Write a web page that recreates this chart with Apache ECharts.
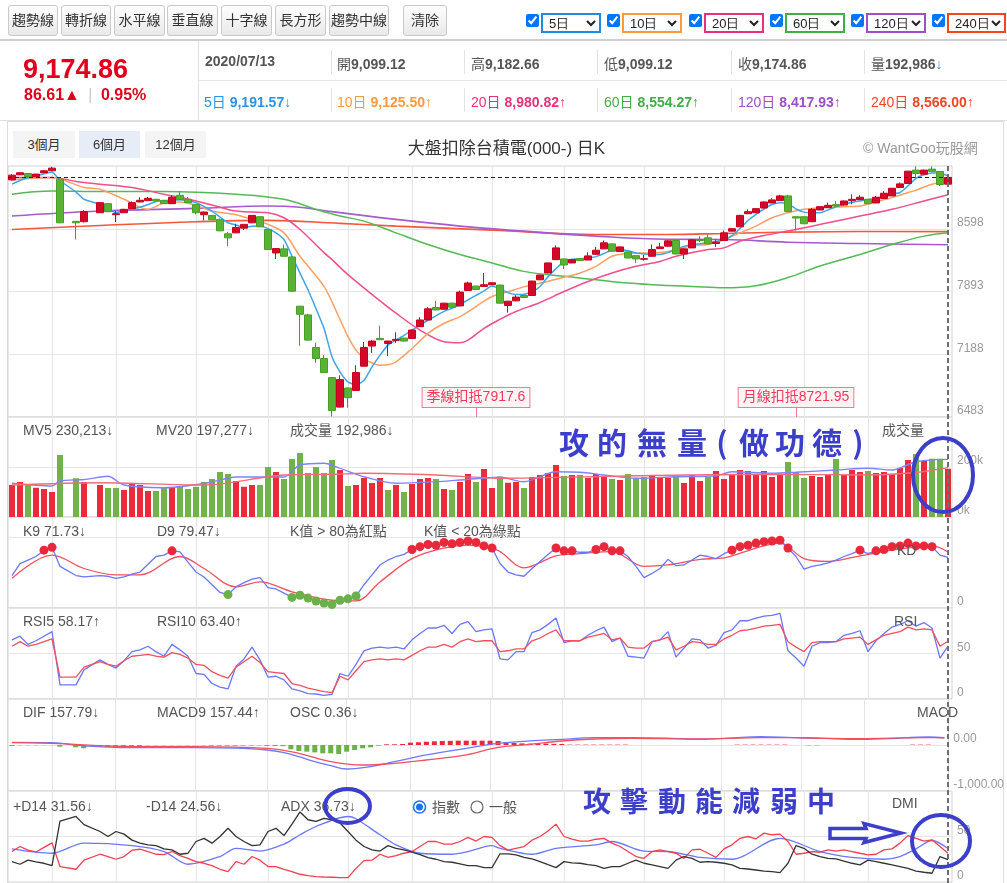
<!DOCTYPE html>
<html>
<head>
<meta charset="utf-8">
<script src="https://cdn.jsdelivr.net/npm/echarts@6/dist/echarts.min.js"></script>
<style>
body { margin: 0; background: #fff; font-family: "Liberation Sans", Arial, "Noto Sans CJK TC", sans-serif; }
#page { position: relative; width: 1007px; height: 883px; overflow: hidden; }
#chart { position: absolute; left: 0; top: 0; width: 1007px; height: 883px; z-index: 1; }
.abs { position: absolute; z-index: 2; white-space: nowrap; }
.btn { top: 5px; height: 31px; box-sizing: border-box; border: 1px solid #c9c9c9; border-radius: 3px;
  background: linear-gradient(#fefefe, #e9e9e9); font-size: 14px; color: #333; line-height: 29px; text-align: center; }
.ck { top: 14px; width: 13px; height: 13px; margin: 0; }
.sel { top: 13px; height: 20px; box-sizing: border-box; border: 2px solid; border-radius: 0; background: #fff;
  font-size: 13px; padding: 0 0 0 2px; color: #222; }
.cell { font-size: 14px; font-weight: bold; color: #555; }
.cell span { font-weight: normal; }
.vsep { width: 1px; background: #e2e2e2; }
.tab { top: 131px; height: 27px; font-size: 13px; color: #333; line-height: 27px; text-align: center; background: #f4f4f4; }
</style>
</head>
<body>
<div id="page">
  <div class="abs" style="left:7px;top:121px;width:995px;height:770px;border:1px solid #dcdcdc;z-index:0"></div>
  <div id="chart"></div>

  <div class="abs btn" style="left:8px;width:50px">趨勢線</div>
  <div class="abs btn" style="left:61px;width:50px">轉折線</div>
  <div class="abs btn" style="left:114px;width:51px">水平線</div>
  <div class="abs btn" style="left:167px;width:51px">垂直線</div>
  <div class="abs btn" style="left:221px;width:51px">十字線</div>
  <div class="abs btn" style="left:275px;width:51px">長方形</div>
  <div class="abs btn" style="left:329px;width:60px">趨勢中線</div>
  <div class="abs btn" style="left:403px;width:44px">清除</div>

  <input type="checkbox" checked class="abs ck" style="left:526px">
  <select class="abs sel" style="left:541px;width:60px;border-color:#1f8ae0"><option>5日</option></select>
  <input type="checkbox" checked class="abs ck" style="left:607px">
  <select class="abs sel" style="left:622px;width:60px;border-color:#ff9a3c"><option>10日</option></select>
  <input type="checkbox" checked class="abs ck" style="left:689px">
  <select class="abs sel" style="left:704px;width:60px;border-color:#e9307a"><option>20日</option></select>
  <input type="checkbox" checked class="abs ck" style="left:770px">
  <select class="abs sel" style="left:785px;width:60px;border-color:#3fae46"><option>60日</option></select>
  <input type="checkbox" checked class="abs ck" style="left:851px">
  <select class="abs sel" style="left:866px;width:60px;border-color:#9b4fc9"><option>120日</option></select>
  <input type="checkbox" checked class="abs ck" style="left:932px">
  <select class="abs sel" style="left:947px;width:59px;border-color:#f2461e"><option>240日</option></select>

  <div class="abs" style="left:0;top:39px;width:1007px;height:2px;background:#cfcfcf"></div>
  <div class="abs" style="left:0;top:120px;width:1007px;height:1px;background:#e0e0e0"></div>
  <div class="abs" style="left:198px;top:41px;width:1px;height:79px;background:#e0e0e0"></div>
  <div class="abs" style="left:198px;top:80px;width:809px;height:1px;background:#e6e6e6"></div>

  <div class="abs" style="left:23px;top:56px;font-size:27px;line-height:27px;font-weight:bold;color:#e0001b">9,174.86</div>
  <div class="abs" style="left:24px;top:87px;font-size:16px;line-height:16px;font-weight:bold;color:#e0001b">86.61▲ <span style="color:#ccc;font-weight:normal;margin:0 4px">|</span> 0.95%</div>

  <div class="abs cell" style="left:205px;top:53px">2020/07/13</div>
  <div class="abs vsep" style="left:331px;top:50px;height:24px"></div>
  <div class="abs cell" style="left:337px;top:53px"><span>開</span>9,099.12</div>
  <div class="abs vsep" style="left:464px;top:50px;height:24px"></div>
  <div class="abs cell" style="left:471px;top:53px"><span>高</span>9,182.66</div>
  <div class="abs vsep" style="left:597px;top:50px;height:24px"></div>
  <div class="abs cell" style="left:604px;top:53px"><span>低</span>9,099.12</div>
  <div class="abs vsep" style="left:731px;top:50px;height:24px"></div>
  <div class="abs cell" style="left:738px;top:53px"><span>收</span>9,174.86</div>
  <div class="abs vsep" style="left:864px;top:50px;height:24px"></div>
  <div class="abs cell" style="left:871px;top:53px"><span>量</span>192,986<span style="color:#3a8ee6">↓</span></div>

  <div class="abs cell" style="left:204px;top:91px;color:#2a94e4"><span>5日</span> 9,191.57<span>↓</span></div>
  <div class="abs vsep" style="left:331px;top:88px;height:24px"></div>
  <div class="abs cell" style="left:337px;top:91px;color:#ff9a3c"><span>10日</span> 9,125.50<span>↑</span></div>
  <div class="abs vsep" style="left:464px;top:88px;height:24px"></div>
  <div class="abs cell" style="left:471px;top:91px;color:#e9307a"><span>20日</span> 8,980.82<span>↑</span></div>
  <div class="abs vsep" style="left:597px;top:88px;height:24px"></div>
  <div class="abs cell" style="left:604px;top:91px;color:#3fae46"><span>60日</span> 8,554.27<span>↑</span></div>
  <div class="abs vsep" style="left:731px;top:88px;height:24px"></div>
  <div class="abs cell" style="left:738px;top:91px;color:#9b4fc9"><span>120日</span> 8,417.93<span>↑</span></div>
  <div class="abs vsep" style="left:864px;top:88px;height:24px"></div>
  <div class="abs cell" style="left:871px;top:91px;color:#f2461e"><span>240日</span> 8,566.00<span>↑</span></div>

  <div class="abs tab" style="left:13px;width:62px">3個月</div>
  <div class="abs tab" style="left:79px;width:61px;background:#e6edf7">6個月</div>
  <div class="abs tab" style="left:145px;width:61px">12個月</div>
  <div class="abs" style="left:0;width:1007px;top:134px;text-align:center;font-size:17px;color:#333;padding-left:6px;box-sizing:border-box">大盤扣除台積電(000-) 日K</div>
  <div class="abs" style="left:863px;top:137px;font-size:14px;color:#999">© WantGoo玩股網</div>
</div>

<script>
// ---- data ----
const categories = [
  '01/13','01/14','01/15','01/16','01/17','01/20','01/30','01/31','02/03','02/04',
  '02/05','02/06','02/07','02/10','02/11','02/12','02/13','02/14','02/17','02/18',
  '02/19','02/20','02/21','02/24','02/25','02/26','02/27','03/02','03/03','03/04',
  '03/05','03/06','03/09','03/10','03/11','03/12','03/13','03/16','03/17','03/18',
  '03/19','03/20','03/23','03/24','03/25','03/26','03/27','03/30','03/31','04/01',
  '04/06','04/07','04/08','04/09','04/10','04/13','04/14','04/15','04/16','04/17',
  '04/20','04/21','04/22','04/23','04/24','04/27','04/28','04/29','04/30','05/04',
  '05/05','05/06','05/07','05/08','05/11','05/12','05/13','05/14','05/15','05/18',
  '05/19','05/20','05/21','05/22','05/25','05/26','05/27','05/28','05/29','06/01',
  '06/02','06/03','06/04','06/05','06/08','06/09','06/10','06/11','06/12','06/15',
  '06/16','06/17','06/18','06/19','06/22','06/23','06/24','06/29','06/30','07/01',
  '07/02','07/03','07/06','07/07','07/08','07/09','07/10','07/13'
];

const opens = [
  9147,9204,9219,9185,9227,9249,9155,null,8681,8677,
  null,8778,8880,8756,8778,8824,8899,8914,8929,8914,
  8880,8974,8929,8869,8756,8748,8703,8541,8552,8605,
  8665,8733,8590,8326,8372,8281,7728,7630,7264,7140,
  6926,6594,6809,6782,7054,7280,7366,7310,7344,7370,
  7366,7498,7573,7713,7694,7762,7731,7905,7954,7950,
  7969,7965,7735,7788,7848,7848,8025,8101,8251,8259,
  8214,8262,8247,8311,8372,8428,8342,8338,8296,8255,
  8289,8375,8402,8466,8315,8383,8477,8496,8432,8466,
  8571,8620,8767,8778,8831,8888,8914,8967,8733,8733,
  8677,8809,8835,8869,8865,8914,8925,8929,8888,8937,
  8967,9061,9106,9257,9211,9268,9242,9099.12
];
const closes = [
  9200,9227,9185,9212,9249,9279,8665,null,8665,8790,
  null,8891,8790,8767,8816,8891,8918,8940,8910,8880,
  8952,8925,8891,8778,8786,8699,8575,8496,8613,8647,
  8748,8620,8364,8375,8289,7897,7637,7347,7140,6982,
  6557,6903,6700,6982,7264,7336,7351,7336,7355,7336,
  7460,7573,7698,7686,7762,7716,7886,7988,7916,7969,
  7991,7762,7784,7830,7826,8010,8078,8214,8383,8191,
  8251,8240,8293,8357,8440,8345,8394,8270,8259,8262,
  8364,8394,8462,8315,8372,8473,8466,8428,8447,8552,
  8598,8748,8790,8824,8899,8922,8967,8790,8718,8654,
  8816,8846,8861,8854,8910,8929,8952,8880,8952,8997,
  9053,9102,9245,9219,9257,9242,9095,9174.86
];
const lows = [
  9140,9200,9180,9180,9222,9245,8660,null,8477,8670,
  null,8775,8785,8673,8775,8820,8895,8910,8905,8876,
  8875,8920,8888,8760,8692,8695,8570,8402,8548,8583,
  8660,8616,8360,8259,8285,7890,7283,7340,7091,6978,
  6489,6590,6587,6778,7050,7204,7348,7170,7317,7332,
  7362,7495,7570,7682,7690,7712,7727,7901,7912,7946,
  7965,7758,7656,7784,7822,7845,8021,8097,8247,8146,
  8210,8236,8243,8307,8368,8341,8338,8266,8214,8240,
  8285,8371,8398,8311,8259,8379,8447,8424,8394,8462,
  8567,8616,8763,8774,8827,8884,8910,8786,8579,8650,
  8673,8805,8831,8850,8861,8873,8921,8876,8884,8933,
  8963,9057,9102,9162,9207,9238,9080,9099.12
];
const highs = [
  9210,9234,9225,9216,9256,9294,9160,null,8685,8805,
  null,8895,8885,8797,8822,8905,8952,8955,8935,8918,
  8974,9016,8955,8872,8790,8752,8712,8564,8654,8652,
  8752,8737,8594,8380,8421,8285,7730,7641,7317,7178,
  6930,6952,6812,7065,7325,7345,7509,7340,7434,7374,
  7465,7603,7716,7788,7766,7766,7901,8003,7958,8101,
  7995,7970,7788,7850,7852,8014,8082,8218,8409,8263,
  8255,8266,8334,8394,8466,8432,8398,8342,8300,8304,
  8421,8440,8470,8470,8376,8481,8515,8534,8477,8579,
  8605,8755,8816,8830,8905,8940,8978,8978,8737,8737,
  8830,8852,8891,8910,8914,8986,8974,8933,8967,9020,
  9057,9117,9249,9300,9262,9300,9246,9182.66
];

// moving averages, read as [slot, value]
const ma5 = [[0,9099],[1,9140],[2,9170],[3,9190],[4,9215],[5,9232],[6,9140],[8,9010],[9,8929],[11,8873],[12,8820],[13,8778],[14,8800],[15,8822],[16,8840],[17,8870],[18,8905],[19,8915],[20,8920],[21,8925],[22,8912],[23,8891],[24,8850],[25,8797],[26,8730],[27,8665],[28,8640],[29,8617],[30,8625],[31,8628],[32,8600],[33,8552],[34,8477],[35,8289],[36,8100],[37,7912],[38,7700],[39,7480],[40,7160],[41,6990],[42,6877],[43,6845],[44,6895],[45,7046],[46,7178],[47,7291],[48,7347],[49,7400],[50,7460],[51,7515],[52,7570],[53,7620],[54,7670],[55,7705],[56,7745],[57,7800],[58,7850],[59,7900],[60,7955],[61,7920],[62,7880],[63,7858],[64,7862],[65,7890],[66,7950],[67,8060],[68,8150],[69,8230],[70,8255],[71,8259],[72,8270],[73,8285],[74,8320],[75,8360],[76,8365],[77,8350],[78,8325],[79,8315],[80,8308],[81,8310],[82,8330],[83,8370],[84,8400],[85,8421],[86,8430],[87,8440],[88,8455],[89,8475],[90,8520],[91,8600],[92,8690],[93,8760],[94,8820],[95,8870],[96,8891],[97,8880],[98,8820],[99,8785],[100,8778],[101,8778],[102,8810],[103,8845],[104,8870],[105,8895],[106,8910],[107,8925],[108,8940],[109,8960],[110,8985],[111,9005],[112,9080],[113,9165],[114,9205],[115,9225],[116,9225],[117,9191.57]];
const ma10 = [[0,9147],[5,9174],[9,9061],[11,9042],[14,8930],[17,8816],[18,8850],[19,8891],[21,8899],[23,8860],[25,8797],[28,8755],[30,8703],[32,8647],[34,8552],[36,8289],[39,7950],[41,7580],[42,7385],[43,7234],[44,7140],[45,7090],[46,7065],[47,7070],[48,7103],[50,7253],[52,7423],[54,7536],[56,7611],[58,7724],[60,7837],[62,7890],[64,7945],[66,7985],[68,8030],[70,8075],[71,8101],[73,8176],[75,8289],[77,8319],[79,8326],[81,8330],[83,8360],[85,8409],[87,8421],[89,8477],[91,8552],[93,8628],[95,8722],[97,8778],[99,8816],[101,8835],[104,8846],[106,8854],[108,8900],[110,8948],[112,9005],[113,9030],[115,9099],[117,9125.5]];
const ma20 = [[0,9174],[5,9174],[8,9130],[11,9099],[15,9061],[19,8986],[23,8910],[26,8840],[28,8797],[30,8785],[32,8778],[34,8722],[36,8590],[39,8330],[40,8251],[42,8082],[45,7860],[48,7649],[51,7460],[54,7329],[56,7317],[57,7347],[59,7479],[61,7580],[63,7668],[66,7770],[69,7893],[72,8006],[75,8101],[78,8176],[81,8230],[83,8289],[87,8364],[89,8383],[91,8458],[94,8522],[98,8590],[102,8665],[106,8741],[110,8816],[114,8910],[117,8980.82]];
const ma60 = [[0,8986],[5,9023],[11,9016],[19,9016],[28,8986],[34,8929],[38,8816],[41,8741],[44,8684],[48,8552],[52,8421],[56,8308],[60,8214],[64,8119],[69,8063],[73,8025],[77,7988],[82,7960],[85,7950],[89,7935],[93,7958],[97,8050],[101,8180],[106,8308],[110,8421],[114,8515],[117,8554.27]];
const ma120 = [[0,8741],[11,8797],[23,8827],[32,8854],[36,8840],[40,8790],[48,8703],[56,8628],[64,8571],[73,8515],[82,8480],[89,8477],[97,8447],[106,8432],[117,8417.93]];
const ma240 = [[0,8590],[11,8635],[23,8677],[32,8692],[41,8658],[48,8628],[60,8583],[73,8534],[82,8534],[89,8545],[97,8560],[106,8567],[117,8566]];

// volume in thousands, colour flag per bar (r = up, g = down)
const volume = [
  128,140,128,117,112,100,248,'-',155,140,
  '-',128,116,116,108,132,128,104,104,116,
  120,120,112,121,140,152,180,172,144,121,
  128,128,200,180,152,232,256,176,200,176,
  228,188,124,128,156,136,156,108,128,100,
  132,152,156,152,112,108,140,172,140,192,
  116,162,137,140,116,160,168,176,208,164,
  168,168,156,172,160,152,148,172,156,160,
  168,156,156,164,136,168,144,160,184,152,
  168,188,184,168,184,160,172,220,180,156,
  164,160,168,232,168,188,180,184,176,180,
  172,196,228,252,224,233,233,193
];
const volColor = ('rrgrrrg-gr' + '-rggrrrrgg' + 'rgggggggrr' + 'rggrgggggg' + 'grgrrrrgrg' +
  'rrrgrgrrgr' + 'rgrrgrrrrg' + 'rgrrrgrggg' + 'rrrgrrrgrr' + 'rrrrrrrggg' + 'rrrgrrrgrr' + 'rrrgrggr').split('');
const mv5 = [[0,135],[5,124],[6,144],[9,150],[12,163],[14,128],[19,117],[22,125],[25,140],[28,160],[34,160],[36,208],[39,215],[41,195],[44,161],[48,135],[53,141],[56,148],[61,159],[64,141],[68,181],[71,179],[74,168],[78,155],[83,161],[88,165],[90,181],[95,175],[98,179],[103,188],[107,195],[110,188],[113,221],[117,230.2]];
const mv20 = [[0,128],[11,137],[24,128],[34,168],[40,171],[44,175],[53,168],[61,155],[78,165],[95,171],[107,168],[113,178],[117,197.3]];

// KD
const kLine = [[0,46],[1,63],[2,68],[3,73],[4,82],[5,86],[6,59],[8,46],[9,44],[11,46],[12,45],[13,42],[14,44],[15,48],[16,51],[17,62],[18,73],[19,75],[20,81],[21,79.5],[22,65],[23,51],[24,44],[25,33],[26,22],[27,19],[28,30],[29,36],[30,41],[31,43],[32,29],[33,27],[34,21],[35,15],[36,18],[37,14],[38,10],[39,7],[40,5],[41,11],[42,13],[43,17],[44,33],[45,47],[46,61],[47,68],[48,73],[49,76],[50,83],[51,87],[52,90],[53,89],[54,93],[55,91],[56,93],[57,95],[58,93],[59,88],[60,85],[61,63],[62,51],[63,47],[64,45],[65,56],[66,66],[67,76],[68,85],[69,81],[70,81],[71,79],[72,79],[73,83],[74,87],[75,81],[76,81],[77,73],[78,59],[79,43],[80,49],[81,56],[82,69],[83,60],[84,61],[85,68],[86,75],[87,73],[88,70],[89,77],[90,82],[91,87],[92,89],[93,92],[94,94],[95,95],[96,96],[97,85],[98,73],[99,55],[100,59],[101,61],[102,64],[103,68],[104,73],[105,77],[106,82],[107,77],[108,81],[109,83],[110,87],[111,88],[112,92],[113,88],[114,88],[115,87],[116,75],[117,71.73]];
const dLine = [[0,42],[5,75],[9,56],[13,47],[16,47],[21,73],[24,56],[28,30],[31,37],[35,23],[40,11],[43,10],[46,37],[50,70],[54,85],[57,89],[60,85],[61,80],[64,57],[68,74],[71,77],[75,80],[79,59],[82,61],[86,69],[89,71],[93,85],[96,92],[99,70],[102,66],[106,74],[110,82],[115,88],[117,79.47]];

// RSI
const rsi5 = [[0,65],[1,69],[2,60],[3,64],[4,69],[5,74],[6,15.5],[8,15.5],[9,32],[11,43],[12,38],[13,34],[14,42],[15,52],[16,54],[17,58],[18,52],[19,47],[20,60],[21,54],[22,47],[23,28],[24,27],[25,17],[26,13],[27,11],[28,36],[29,44],[30,57],[31,43],[32,24],[33,25],[34,21],[35,11],[36,9],[37,6],[38,5.5],[39,4],[40,5],[41,28],[42,25],[43,38],[44,53],[45,56],[46,57],[47,56],[48,57],[49,55],[50,65],[51,72],[52,78],[53,78],[54,81],[55,72],[56,82],[57,85],[58,74],[59,76],[60,77],[61,44],[62,43],[63,52],[64,52],[65,73],[66,76],[67,82],[68,89],[69,62],[70,64],[71,64],[72,70],[73,75],[74,79],[75,63],[76,67],[77,47],[78,46],[79,45],[80,63],[81,65],[82,74],[83,46],[84,56],[85,66],[86,65],[87,56],[88,59],[89,73],[90,76],[91,86],[92,86],[93,89],[94,91],[95,92],[96,94],[97,53],[98,45],[99,36],[100,58],[101,62],[102,62],[103,63],[104,70],[105,72],[106,75],[107,52],[108,64],[109,72],[110,79],[111,82],[112,86],[113,80],[114,84],[115,78],[116,45],[117,58.17]];
const rsi10 = [[0,58],[1,63],[2,58],[3,60],[4,63],[5,66],[6,24],[8,24],[9,35],[11,41],[12,38],[13,36],[14,42],[15,47],[16,48],[17,49],[18,47],[19,46],[20,51],[21,49],[22,45],[23,38],[24,37],[25,30],[26,26],[27,23],[28,35],[29,41],[30,47],[31,40],[32,30],[33,29],[34,28],[35,17],[36,15],[37,12],[38,10],[39,8],[40,7],[41,25],[42,21],[43,31],[44,41],[45,43],[46,44],[47,43],[48,44],[49,43],[50,48],[51,53],[52,57],[53,57],[54,60],[55,57],[56,63],[57,66],[58,63],[59,64],[60,64],[61,52],[62,53],[63,55],[64,55],[65,64],[66,67],[67,72],[68,76],[69,64],[70,64],[71,64],[72,68],[73,70],[74,72],[75,65],[76,67],[77,57],[78,56],[79,56],[80,63],[81,65],[82,68],[83,54],[84,58],[85,63],[86,62],[87,60],[88,60],[89,66],[90,70],[91,75],[92,76],[93,78],[94,80],[95,81],[96,82],[97,63],[98,57],[99,52],[100,62],[101,63],[102,63],[103,63],[104,66],[105,67],[106,68],[107,60],[108,65],[109,70],[110,72],[111,74],[112,79],[113,76],[114,77],[115,76],[116,58],[117,63.4]];

// MACD
const dif = [[0,58],[5,51],[9,-20],[15,-58],[23,-58],[28,-70],[32,-109],[34,-160],[36,-254],[38,-360],[40,-449],[42,-522],[43,-515],[45,-470],[48,-362],[52,-217],[57,-72],[61,36],[65,90],[69,123],[73,159],[78,159],[82,150],[86,123],[90,150],[94,181],[98,159],[102,145],[106,123],[110,140],[115,174],[117,157.79]];
const macd9 = [[0,51],[5,36],[15,-36],[23,-36],[32,-72],[36,-181],[40,-362],[44,-435],[48,-398],[52,-326],[57,-217],[61,-51],[65,14],[69,87],[73,130],[78,145],[86,130],[94,159],[98,159],[102,145],[106,138],[115,159],[117,157.44]];
const osc = [
  -22,-5,-5,-5,-4,-4,-36,'-',-50,-72,
  '-',-36,-43,-50,-43,-36,-36,-5,-5,-5,
  -4,-4,-5,-5,-8,-15,-15,-15,-15,-12,
  -12,-8,-20,-22,-25,-94,-130,-145,-160,-181,
  -181,-196,-145,-109,-72,-50,-15,15,15,22,
  51,60,72,80,87,90,94,94,94,94,
  94,87,65,43,35,29,29,29,25,22,
  8,8,8,8,8,8,8,8,0,0,
  0,0,0,0,0,0,0,0,0,0,
  0,8,8,8,8,8,8,8,0,0,
  -8,-8,0,0,0,0,0,0,0,0,
  0,0,0,8,8,8,1,0.36
];

// DMI
const plusDI = [[0,33.5],[1,39],[2,35],[3,33],[4,38],[5,43],[6,17],[8,14],[9,24],[11,30.5],[12,28],[13,25],[14,28],[15,35],[16,36],[17,33.5],[18,30.5],[19,30],[20,33.5],[21,29],[22,26],[23,22.4],[24,20.6],[25,18],[26,14],[27,11.4],[28,22.4],[29,19.5],[30,28],[31,24],[32,17],[33,17],[34,14],[35,11.4],[36,8.5],[37,7],[38,5.9],[39,5.5],[40,5.2],[41,4.8],[42,4.8],[43,15],[44,23.5],[45,24],[46,30.5],[47,27],[48,29],[49,31.6],[50,33.5],[51,39],[52,44.5],[53,44.5],[54,41.6],[55,41.6],[56,44.5],[57,49],[58,45],[59,50],[60,49],[61,40],[62,35],[63,37],[64,39],[65,46],[66,50],[67,56],[68,63.6],[69,50],[70,47],[71,45],[72,45],[73,47],[74,48],[75,42.7],[76,39],[77,33.5],[78,28],[79,26],[80,33.5],[81,35.3],[82,33.5],[83,31.6],[84,26],[85,35.3],[86,36],[87,31.6],[88,27],[89,36.4],[90,40.8],[91,48],[92,50],[93,47.5],[94,53.7],[95,51.9],[96,52.6],[97,44.5],[98,30.5],[99,31.6],[100,33.5],[101,32.7],[102,35.3],[103,34],[104,35.3],[105,33.5],[106,31.6],[107,29.8],[108,30.5],[109,35.3],[110,36.4],[111,42.7],[112,51],[113,48],[114,45],[115,46.4],[116,39],[117,31.56]];
const minusDI = [[0,22.4],[1,19.5],[2,24],[3,22],[4,20.6],[5,18],[6,67],[8,72],[9,63],[11,55.5],[12,50],[13,55.5],[14,52.6],[15,46],[16,42.7],[17,40.8],[18,40],[19,36.4],[20,35.3],[21,30.5],[22,31.6],[23,44.5],[24,48],[25,42.7],[26,50],[27,59],[28,50],[29,44.5],[30,40],[31,40.8],[32,55.5],[33,59],[34,51],[35,63.6],[36,77],[37,68.4],[38,66.6],[39,70],[40,68.4],[41,64.8],[42,55.5],[43,46],[44,39],[45,35.3],[46,34],[47,40],[48,37],[49,35.3],[50,32.7],[51,30],[52,26.9],[53,25],[54,22.4],[55,21.7],[56,19.9],[57,18],[58,18],[59,15.8],[60,15.8],[61,31],[62,31],[63,29.8],[64,27],[65,25.4],[66,22.4],[67,19],[68,15.8],[69,22.4],[70,21],[71,20.6],[72,19],[73,18],[74,15],[75,17],[76,17],[77,20.6],[78,24],[79,20.6],[80,18.8],[81,17],[82,15],[83,24],[84,28],[85,26],[86,21.7],[87,22.4],[88,21.7],[89,20.6],[90,18.8],[91,15],[92,14.3],[93,13.2],[94,12],[95,11.4],[96,10.3],[97,20.6],[98,40],[99,37],[100,30.5],[101,28],[102,26],[103,25.4],[104,23],[105,20.6],[106,18.8],[107,24],[108,22.4],[109,20.6],[110,18.8],[111,17],[112,15],[113,12],[114,10.7],[115,9.6],[116,28],[117,24.56]];
const adx = [[0,36.4],[5,31.6],[9,42.7],[15,40],[19,33.5],[22,19.5],[26,28],[28,37],[31,34],[34,41.6],[36,51.9],[38,61],[42,72],[43,69.5],[46,51.9],[48,40.8],[51,31.6],[55,30.5],[57,33.5],[60,40],[61,37],[65,30.5],[68,37],[73,40.8],[75,44.5],[79,34],[82,33.5],[86,27],[90,25],[96,48],[101,33.5],[105,27],[109,25],[111,28],[113,36.4],[115,45.6],[117,36.73]];

// vertical guide dates, price guide levels, tick labels
const vLineIdx = [5,13,23,32,42,50,60,69,79,89,99,107];
const priceTicks = [6483, 7188, 7893, 8598];
const lastClose = 9174.86;
const quarterDeduct = { idx: 58, text: '季線扣抵7917.6' };
const monthDeduct = { idx: 98, text: '月線扣抵8721.95' };

// ---- chart ----
const FONT = '"Liberation Sans","Noto Sans CJK TC",sans-serif';
const RED = '#d4082a', GREEN = '#5ab234';
const grids = [
  { top: 166, height: 251 },
  { top: 417, height: 100 },
  { top: 517, height: 91 },
  { top: 608, height: 91 },
  { top: 699, height: 92 },
  { top: 791, height: 91 }
].map(g => Object.assign({ left: 8, width: 944, show: true, borderColor: '#d2d2d2', borderWidth: 1 }, g));

const xAxes = grids.map((g, i) => ({
  type: 'category', gridIndex: i, data: categories, boundaryGap: true,
  axisLine: { show: false }, axisTick: { show: false }, axisLabel: { show: false }, splitLine: { show: false }
}));

function yAx(i, min, max, interval, fmt, extraLabel, extra) {
  return Object.assign({
    type: 'value', gridIndex: i, position: 'right', min, max, interval,
    axisLine: { show: false }, axisTick: { show: false },
    splitLine: { lineStyle: { color: '#e6e6e6' } },
    axisLabel: Object.assign({ color: '#999', fontSize: 12, fontFamily: FONT, margin: 5, verticalAlign: 'bottom', formatter: fmt }, extraLabel || {})
  }, extra || {});
}

const yAxes = [
  yAx(0, 6483, 9303, 705, v => String(Math.round(v)), { customValues: priceTicks }, { splitLine: { show: false } }),
  yAx(1, 0, 400, 200, v => v === 0 ? '0k' : (v === 200 ? '200k' : '')),
  yAx(2, 0, 129, 100, v => v === 0 ? '0' : ''),
  yAx(3, 0, 100, 50, v => v === 100 ? '' : String(v)),
  yAx(4, -1000, 1000, 1000, v => v === 0 ? '0.00' : (v === -1000 ? '-1,000.00' : '')),
  yAx(5, 0, 100, 50, v => v === 100 ? '' : String(v))
];

function guides(extraY) {
  return {
    silent: true, symbol: ['none', 'none'], z: 1, animation: false,
    label: { show: false }, emphasis: { disabled: true },
    lineStyle: { color: '#e6e6e6', width: 1, type: 'solid' },
    data: vLineIdx.map(i => ({ xAxis: categories[i] })).concat((extraY || []).map(v => ({ yAxis: v })))
  };
}

function line(name, data, color, gi, opts) {
  return Object.assign({
    name, type: 'line', data, xAxisIndex: gi, yAxisIndex: gi, showSymbol: false, connectNulls: true,
    lineStyle: { color, width: 1.3 }, itemStyle: { color }, emphasis: { disabled: true }, z: 3
  }, opts || {});
}

const candleData = opens.map((o, i) => o == null ? '-' : [o, closes[i], lows[i], highs[i]]);

const deductLabel = d => ({
  coord: [categories[d.idx], 6703], symbol: 'rect', symbolSize: 1, itemStyle: { color: 'rgba(0,0,0,0)' },
  label: { show: true, position: 'inside', formatter: d.text, color: '#ee3a5a', fontSize: 14, fontFamily: FONT,
    backgroundColor: '#fff3f5', borderColor: '#f27a93', borderWidth: 1, padding: [3, 4, 2, 4] }
});
const deductStem = d => ([{ coord: [categories[d.idx], 6586] }, { coord: [categories[d.idx], 6483] }]);

const series = [
  line('MA240', ma240, '#f5573a', 0, { smooth: 0.4, markLine: guides(priceTicks.slice(1)), lineStyle: { color: '#f5573a', width: 1.6 } }),
  line('MA120', ma120, '#a65ad0', 0, { smooth: 0.4, lineStyle: { color: '#a65ad0', width: 1.6 } }),
  line('MA60', ma60, '#55b955', 0, { smooth: 0.4, lineStyle: { color: '#55b955', width: 1.5 } }),
  line('MA20', ma20, '#f04f8a', 0, { smooth: 0.35, lineStyle: { color: '#f04f8a', width: 1.5 } }),
  line('MA10', ma10, '#ffa062', 0, { smooth: 0.3, lineStyle: { color: '#ffa062', width: 1.5 } }),
  line('MA5', ma5, '#3ea5e8', 0, { smooth: 0.2, lineStyle: { color: '#3ea5e8', width: 1.5 } }),
  {
    name: 'K', type: 'candlestick', data: candleData, xAxisIndex: 0, yAxisIndex: 0, barWidth: 7, z: 4,
    itemStyle: { color: RED, color0: GREEN, borderColor: '#c8001e', borderColor0: '#45a024', borderWidth: 1 },
    emphasis: { disabled: true },
    markLine: {
      silent: true, symbol: ['none', 'none'], animation: false, label: { show: false }, emphasis: { disabled: true },
      data: [
        { yAxis: lastClose, lineStyle: { color: '#222', type: [4, 3], width: 1 } },
        deductStem(quarterDeduct).map(p => Object.assign(p, { lineStyle: { color: '#f27a93', width: 1, type: 'solid' } })),
        deductStem(monthDeduct).map(p => Object.assign(p, { lineStyle: { color: '#f27a93', width: 1, type: 'solid' } }))
      ]
    },
    markPoint: { silent: true, animation: false, data: [deductLabel(quarterDeduct), deductLabel(monthDeduct)] }
  },
  {
    name: 'VOL', type: 'bar', data: volume, xAxisIndex: 1, yAxisIndex: 1, barWidth: 6, z: 2,
    itemStyle: { color: p => volColor[p.dataIndex] === 'r' ? '#ea2b3c' : '#72b24a' },
    emphasis: { disabled: true }, markLine: guides()
  },
  line('MV5', mv5, '#7c84ff', 1, { smooth: 0.3, lineStyle: { color: '#7c84ff', width: 1.3 } }),
  line('MV20', mv20, '#f26b79', 1, { smooth: 0.3, lineStyle: { color: '#f26b79', width: 1.3 } }),
  line('D9', dLine, '#f0505f', 2, { smooth: 0.35, markLine: guides() }),
  line('K9', kLine, '#6a77ff', 2, {
    showSymbol: true, showAllSymbol: true, symbol: 'circle', z: 5,
    symbolSize: v => (v[1] > 80 || v[1] < 20) ? 9 : 0,
    itemStyle: { color: p => p.value[1] > 80 ? '#e8283b' : '#6cb04a' }
  }),
  line('RSI5', rsi5, '#6a77ff', 3, { markLine: guides() }),
  line('RSI10', rsi10, '#f0505f', 3),
  {
    name: 'OSC', type: 'bar', data: osc, xAxisIndex: 4, yAxisIndex: 4, barWidth: 5, z: 2,
    itemStyle: { color: p => p.value >= 0 ? '#e8283b' : '#6cb04a' }, emphasis: { disabled: true }, markLine: guides()
  },
  line('DIF', dif, '#6e78ff', 4, { smooth: 0.4 }),
  line('MACD9', macd9, '#f0505f', 4, { smooth: 0.4 }),
  line('ADX', adx, '#6a77ff', 5, { smooth: 0.3, markLine: guides() }),
  line('+D14', plusDI, '#f04050', 5),
  line('-D14', minusDI, '#333333', 5)
];

const chart = echarts.init(document.getElementById('chart'), null, { renderer: 'canvas' });
chart.setOption({ animation: false, grid: grids, xAxis: xAxes, yAxis: yAxes, series });

// ---- texts and hand-drawn notes ----
const rich = {
  a: { color: '#5f6cff', fontSize: 14, fontFamily: FONT },
  b: { color: '#ff4f6a', fontSize: 14, fontFamily: FONT },
  v: { color: '#555', fontSize: 14, fontFamily: FONT },
  g: { color: '#666', fontSize: 14, fontFamily: FONT },
  k: { color: '#333', fontSize: 14, fontFamily: FONT }
};
function label(x, y, text) {
  return { type: 'text', x, y, z: 20, silent: true,
    style: { text, rich, verticalAlign: 'middle', fontSize: 14, fontFamily: FONT, fill: '#555' } };
}
const BLUE = '#3b3fc9';
function glyphs(list, y, size) {
  return list.map(([ch, x]) => ({ type: 'text', x, y, z: 30, silent: true,
    style: { text: ch, fill: BLUE, fontSize: size, fontWeight: 'bold', fontFamily: '"Noto Sans CJK TC",sans-serif',
      align: 'center', verticalAlign: 'middle' } }));
}
const lastX = chart.convertToPixel({ xAxisIndex: 0 }, categories[categories.length - 1]);

const graphic = [
  label(23, 431, '{a|MV5} {v|230,213↓}'),
  label(156, 431, '{b|MV20} {v|197,277↓}'),
  label(290, 431, '{g|成交量 192,986↓}'),
  label(882, 431, '{g|成交量}'),
  label(23, 532, '{a|K9} {v|71.73↓}'),
  label(157, 532, '{b|D9} {v|79.47↓}'),
  label(290, 532, '{g|K值 > 80為紅點}'),
  label(424, 532, '{g|K值 < 20為綠點}'),
  label(897, 551, '{g|KD}'),
  label(23, 622, '{a|RSI5} {v|58.17↑}'),
  label(157, 622, '{b|RSI10} {v|63.40↑}'),
  label(894, 622, '{g|RSI}'),
  label(23, 713, '{a|DIF} {v|157.79↓}'),
  label(157, 713, '{b|MACD9} {v|157.44↑}'),
  label(290, 713, '{g|OSC} {v|0.36↓}'),
  label(917, 713, '{g|MACD}'),
  label(13, 807, '{b|+D14} {v|31.56↓}'),
  label(146, 807, '{k|-D14} {v|24.56↓}'),
  label(281, 807, '{a|ADX} {v|36.73↓}'),
  { type: 'circle', z: 20, silent: true, shape: { cx: 419.5, cy: 807, r: 6 }, style: { fill: '#fff', stroke: '#1a73e8', lineWidth: 1.5 } },
  { type: 'circle', z: 21, silent: true, shape: { cx: 419.5, cy: 807, r: 3.5 }, style: { fill: '#1a73e8' } },
  label(432, 808, '{g|指數}'),
  { type: 'circle', z: 20, silent: true, shape: { cx: 477, cy: 807, r: 6 }, style: { fill: '#fff', stroke: '#666', lineWidth: 1.2 } },
  label(489, 808, '{g|一般}'),
  label(892, 804, '{g|DMI}'),
  { type: 'line', z: 15, silent: true, shape: { x1: lastX, y1: 166, x2: lastX, y2: 883 },
    style: { stroke: '#6e6e6e', lineWidth: 2, lineDash: [5, 3] } },
  { type: 'ellipse', z: 30, silent: true, shape: { cx: 943, cy: 475, rx: 30, ry: 37 }, style: { fill: 'transparent', stroke: BLUE, lineWidth: 4 } },
  { type: 'ellipse', z: 30, silent: true, shape: { cx: 347.5, cy: 806, rx: 22.5, ry: 17 }, style: { fill: 'transparent', stroke: BLUE, lineWidth: 4 } },
  { type: 'ellipse', z: 30, silent: true, shape: { cx: 941, cy: 841, rx: 29, ry: 26 }, style: { fill: 'transparent', stroke: BLUE, lineWidth: 4 } },
  { type: 'polygon', z: 30, silent: true,
    shape: { points: [[830, 828.5], [866, 828.5], [864, 823.5], [901, 833], [864, 842.5], [866, 838.5], [830, 838.5]] },
    style: { fill: '#fff', stroke: BLUE, lineWidth: 3.5 } }
].concat(
  glyphs([['攻', 574], ['的', 612], ['無', 652], ['量', 692], ['(', 722], ['做', 754], ['功', 790], ['德', 827], [')', 858]], 443, 30),
  glyphs([['攻', 597], ['擊', 634], ['動', 672], ['能', 709], ['減', 746], ['弱', 784], ['中', 821]], 801, 28)
);

chart.setOption({ graphic });
</script>
</body>
</html>
